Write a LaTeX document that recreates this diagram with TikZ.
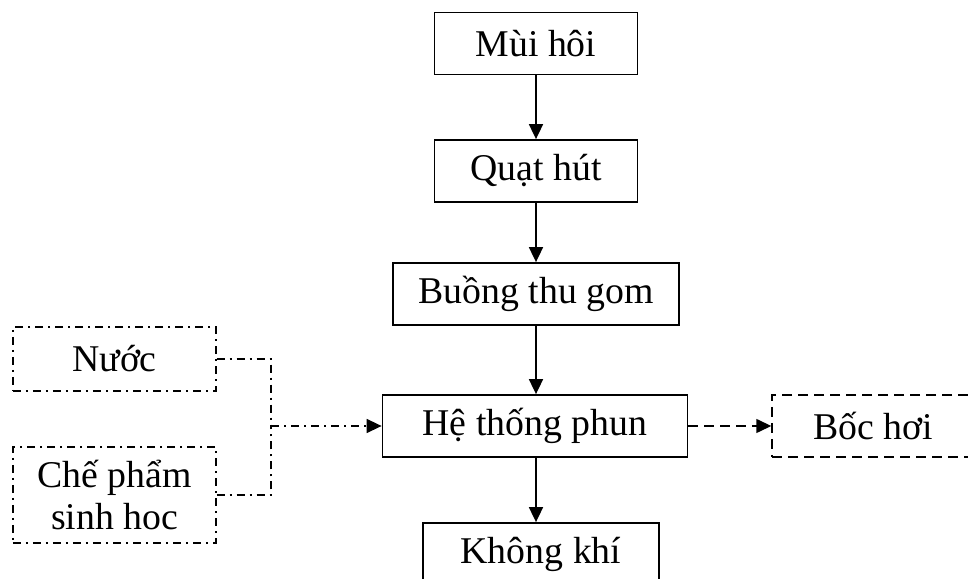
\documentclass[tikz,border=0pt]{standalone}
\usepackage{fontspec}
\setmainfont{Liberation Serif}
\usetikzlibrary{arrows.meta}

\begin{document}
\begin{tikzpicture}[
  font=\fontsize{21.5}{23.5}\selectfont,
  box/.style={draw,line width=1pt,minimum height=1.24cm,inner sep=0pt,align=center},
  dashbox/.style={draw,line width=0.8pt,dash pattern=on 2mm off 1.2mm,minimum height=1.24cm,inner sep=0pt},
  dotbox/.style={draw,line width=0.8pt,dash pattern=on 1.6mm off 1mm on 0.4mm off 1mm,inner sep=0pt,align=center},
  flow/.style={line width=1pt,-{Triangle[length=0.3cm,width=0.28cm]}},
  dd/.style={line width=0.8pt,dash pattern=on 1.6mm off 1mm on 0.4mm off 1mm}
]
\useasboundingbox (0,0) rectangle (19.36,11.58);
\clip (0,0) rectangle (19.36,11.58);

% main column
\node[box,minimum width=4.06cm] (mui) at (10.72,10.71) {Mùi hôi};
\node[box,minimum width=4.06cm] (quat) at (10.72,8.16) {Quạt hút};
\node[box,minimum width=5.72cm] (buong) at (10.72,5.70) {Buồng thu gom};
\node[box,minimum width=6.10cm] (phun) at (10.70,3.06) {Hệ thống phun};
\node[box,minimum width=4.72cm] (khong) at (10.82,0.50) {Không khí};

% side boxes
\node[dotbox,minimum width=4.06cm,minimum height=1.28cm] (nuoc) at (2.29,4.40) {Nước};
\node[dotbox,minimum width=4.06cm,minimum height=1.92cm] (che) at (2.29,1.68) {Chế phẩm\\sinh hoc};
\node[dashbox,minimum width=4.06cm] (boc) at (17.47,3.06) {Bốc hơi};
\coordinate (jn) at (5.42,3.06);

\draw[flow] (mui) -- (quat);
\draw[flow] (quat) -- (buong);
\draw[flow] (buong.south -| mui) -- (phun.north -| mui);
\draw[flow] (phun.south -| mui) -- (khong.north -| mui);

\draw[dd] (nuoc.east) -| (jn);
\draw[dd] (che.east) -| (jn);
\draw[dd,-{Triangle[length=0.3cm,width=0.28cm]}] (jn) -- (phun.west);
\draw[line width=0.8pt,dash pattern=on 2mm off 1.2mm,-{Triangle[length=0.3cm,width=0.28cm]}] (phun.east) -- (boc.west);
\end{tikzpicture}
\end{document}
